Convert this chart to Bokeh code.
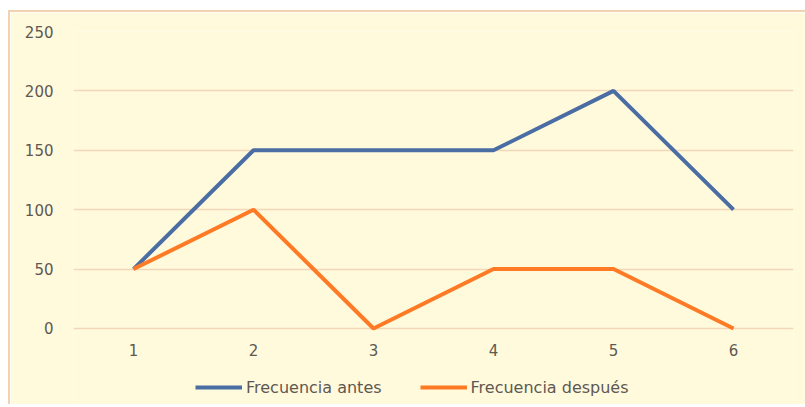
from bokeh.plotting import figure
from bokeh.models import FixedTicker, Legend, LegendItem, Range1d
from bokeh.embed import file_html
from bokeh.resources import INLINE

x_vals = [1, 2, 3, 4, 5, 6]
antes = [50, 150, 150, 150, 200, 100]
despues = [50, 100, 0, 50, 50, 0]
y_ticks = [0, 50, 100, 150, 200, 250]
series_names = ["Frecuencia antes", "Frecuencia después"]

BG = "#FFFADC"
GRID = "#F2D6B8"
TEXT = "#5E5852"
FONT = "DejaVu Sans"

# frame extends below 0 so that the legend (inside the frame) is not clipped
p = figure(frame_width=720, frame_height=373, output_backend="svg", toolbar_location=None,
           x_range=Range1d(0.5, 6.5), y_range=Range1d(-64, 250),
           min_border_left=63, min_border_right=12, min_border_top=19, min_border_bottom=0)
p.margin = (10, 0, 0, 8)
p.styles = {"border-left": "2px solid #F2D2B0", "border-top": "2px solid #F2D2B0"}
p.background_fill_color = BG
p.border_fill_color = BG
p.outline_line_color = None

p.xgrid.grid_line_color = None
p.ygrid.grid_line_color = GRID
p.ygrid.grid_line_width = 1.5
p.ygrid.ticker = FixedTicker(ticks=y_ticks)

for ax in (p.xaxis, p.yaxis):
    ax.axis_line_color = None
    ax.major_tick_line_color = None
    ax.minor_tick_line_color = None
    ax.major_label_text_font = FONT
    ax.major_label_text_font_size = "15px"
    ax.major_label_text_color = TEXT
p.xaxis.ticker = FixedTicker(ticks=x_vals)
p.xaxis.fixed_location = 0
p.yaxis.ticker = FixedTicker(ticks=y_ticks)
p.yaxis.major_label_standoff = 14
p.xaxis.major_label_standoff = 10

r1 = p.line(x_vals, antes, line_color="#4A6DA3", line_width=4)
r2 = p.line(x_vals, despues, line_color="#FF7A25", line_width=4)

legend = Legend(items=[LegendItem(label=series_names[0], renderers=[r1]),
                       LegendItem(label=series_names[1], renderers=[r2])],
                location=(122, 7), orientation="horizontal",
                glyph_width=47, glyph_height=20, label_height=20,
                label_standoff=4, spacing=38, padding=0, margin=0,
                background_fill_alpha=0, border_line_color=None,
                label_text_font=FONT, label_text_font_size="16px",
                label_text_color=TEXT)
p.add_layout(legend, "center")

open("out.html", "w").write(file_html(p, INLINE))
